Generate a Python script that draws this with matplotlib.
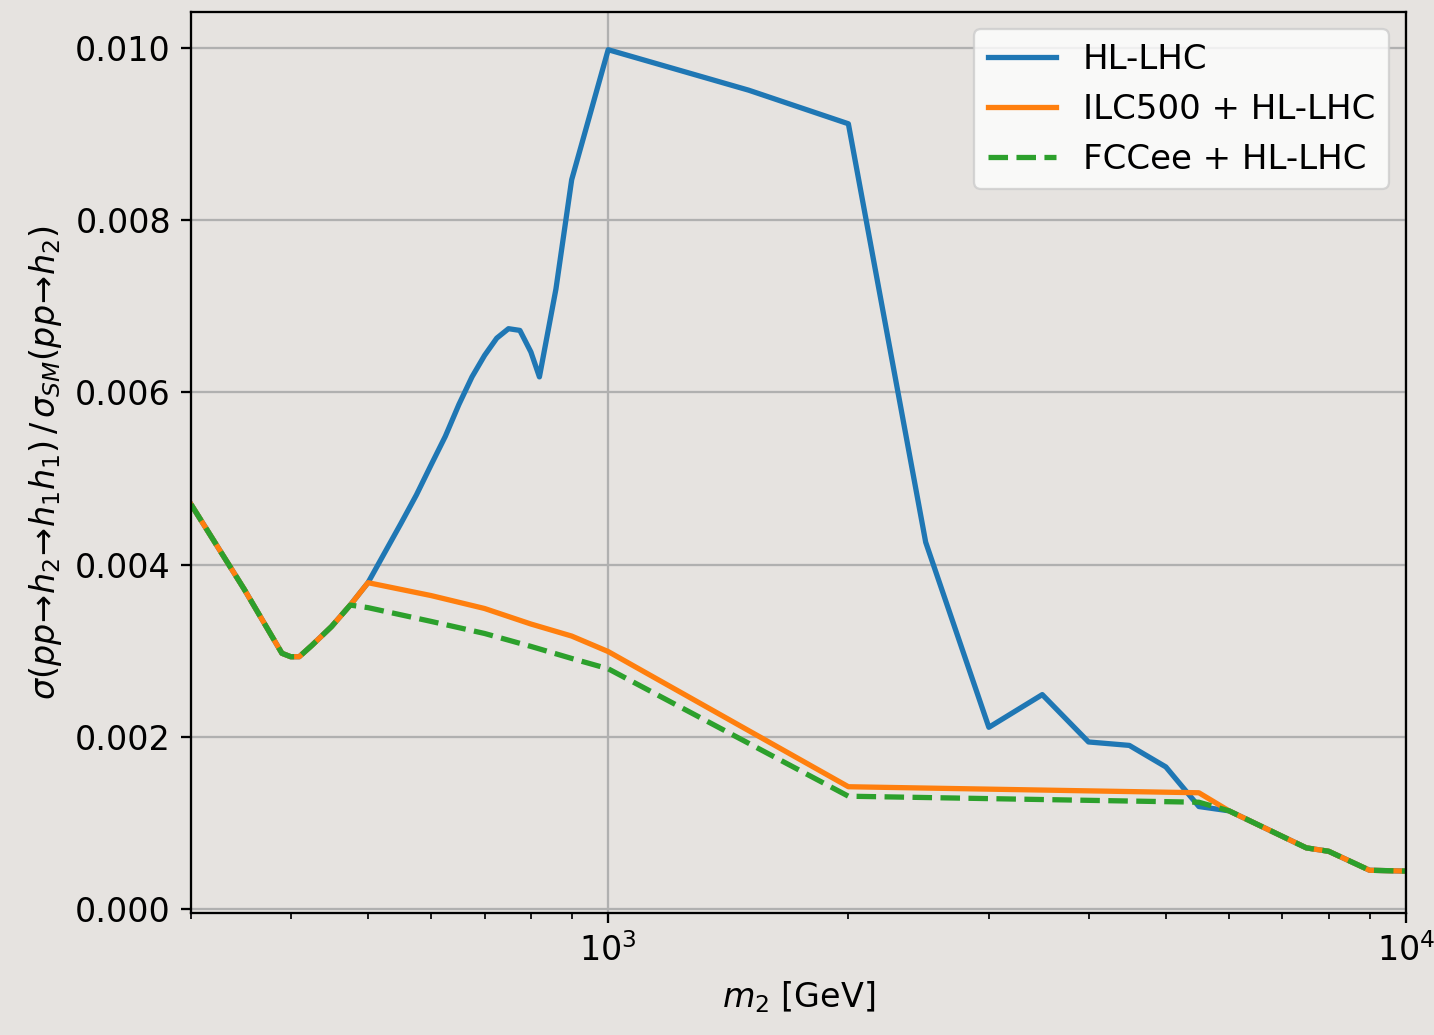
import matplotlib
matplotlib.use("Agg")
import matplotlib.pyplot as plt
from matplotlib.ticker import NullFormatter

# Data
m_hl = [300, 350, 390, 400, 410, 425, 450, 475, 500, 550, 575, 600, 625, 650, 675, 700,
        725, 750, 775, 800, 820, 860, 900, 1000, 1500, 2000, 2500, 3000, 3500, 4000,
        4500, 5000, 5500, 6000, 7500, 8000, 9000, 10000]
r_hl = [4.70e-3, 3.71e-3, 2.97e-3, 2.93e-3, 2.93e-3, 3.06e-3, 3.28e-3, 3.53e-3, 3.79e-3,
        4.48e-3, 4.81e-3, 5.16e-3, 5.49e-3, 5.86e-3, 6.18e-3, 6.43e-3,
        6.63e-3, 6.74e-3, 6.72e-3, 6.47e-3, 6.18e-3, 7.20e-3, 8.47e-3, 9.98e-3,
        9.51e-3, 9.12e-3, 4.26e-3, 2.11e-3, 2.49e-3, 1.94e-3,
        1.90e-3, 1.65e-3, 1.19e-3, 1.14e-3, 0.71e-3, 0.67e-3, 0.45e-3, 0.44e-3]

m_ilc = [300, 350, 390, 400, 410, 425, 450, 475, 500, 600, 700, 800, 900, 1000, 2000,
         5500, 6000, 7500, 8000, 9000, 10000]
r_ilc = [4.70e-3, 3.71e-3, 2.97e-3, 2.93e-3, 2.93e-3, 3.06e-3, 3.28e-3, 3.53e-3, 3.79e-3,
         3.64e-3, 3.49e-3, 3.31e-3, 3.17e-3, 2.99e-3, 1.42e-3,
         1.35e-3, 1.14e-3, 0.71e-3, 0.67e-3, 0.45e-3, 0.44e-3]

m_fcc = [300, 350, 390, 400, 410, 425, 450, 475, 500, 600, 700, 800, 900, 1000, 2000,
         5500, 6000, 7500, 8000, 9000, 10000]
r_fcc = [4.70e-3, 3.71e-3, 2.97e-3, 2.93e-3, 2.93e-3, 3.06e-3, 3.28e-3, 3.53e-3, 3.50e-3,
         3.34e-3, 3.20e-3, 3.05e-3, 2.91e-3, 2.79e-3, 1.31e-3,
         1.24e-3, 1.14e-3, 0.71e-3, 0.67e-3, 0.45e-3, 0.44e-3]

labels = ["HL-LHC", "ILC500 + HL-LHC", "FCCee + HL-LHC"]
y_ticks = [0.000, 0.002, 0.004, 0.006, 0.008, 0.010]

s = 2.06
fs = 24
bg = "#e6e3e0"
plt.rcParams["font.family"] = ["DejaVu Sans"]
plt.rcParams["font.size"] = fs

fig = plt.figure(figsize=(14.34, 10.35), dpi=100, facecolor=bg)
ax = fig.add_axes([0.1332, 0.1180, 0.8473, 0.8704])
ax.set_facecolor("none")

lw = 3.8
ax.plot(m_hl, r_hl, color="#1f77b4", lw=lw, label=labels[0])
ax.plot(m_ilc, r_ilc, color="#ff7f0e", lw=lw, label=labels[1])
ax.plot(m_fcc, r_fcc, color="#2ca02c", lw=lw, ls="--", dashes=(3.7, 1.6), label=labels[2])

ax.set_xscale("log")
ax.set_xlim(300, 10000)
ax.set_ylim(-0.000045, 0.010418)
ax.set_yticks(y_ticks)
ax.set_yticklabels([f"{v:.3f}" for v in y_ticks])
ax.xaxis.set_minor_formatter(NullFormatter())

ax.grid(True, which="major", color="#b0b0b0", lw=0.8 * s)
ax.set_axisbelow(True)
for sp in ax.spines.values():
    sp.set_linewidth(0.8 * s)
ax.tick_params(which="major", length=3.5 * s, width=0.8 * s, pad=3.5 * s, labelsize=fs)
ax.tick_params(which="minor", length=2 * s, width=0.6 * s)

ax.set_xlabel(r"$m_2$ [GeV]", fontsize=fs, labelpad=4 * s)
ax.set_ylabel(r"$\sigma(pp\!\to\!h_2\!\to\!h_1h_1)\,/\,\sigma_{SM}(pp\!\to\!h_2)$",
              fontsize=fs, labelpad=4 * s)

leg = ax.legend(loc="upper right", fontsize=fs + 0.5, handlelength=2.0,
                borderaxespad=0.5, framealpha=0.8)
leg.get_frame().set_linewidth(0.8 * s)

fig.savefig("out.png", dpi=100, facecolor=bg)
